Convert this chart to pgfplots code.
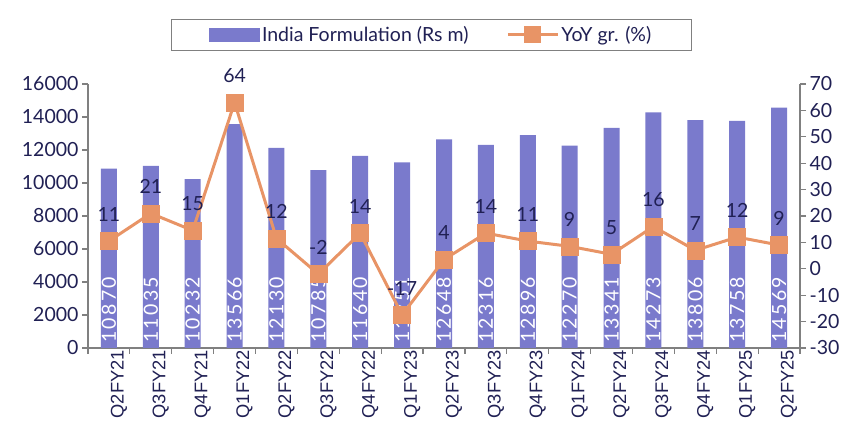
\documentclass[border=0pt]{standalone}
\usepackage{fontspec}
\setmainfont{Lato}
\newfontfamily\arialf{Liberation Sans}
\newfontfamily\barf{Lato}[LetterSpace=12]
\usepackage{pgfplots}
\pgfplotsset{compat=1.18}
\definecolor{barc}{RGB}{122,122,204}
\definecolor{linec}{RGB}{232,148,102}
\definecolor{txt}{RGB}{32,32,84}
\definecolor{axc}{RGB}{128,128,128}
\newcommand{\fz}{\fontsize{19.5}{22}\selectfont}
\newcommand{\fx}{\arialf\fontsize{18.3}{22}\selectfont}
\newcommand{\fb}{\barf\fontsize{19.5}{22}\selectfont}
\begin{document}
\begin{tikzpicture}
\path[use as bounding box] (-88pt,-87pt) rectangle (763pt,348pt);
\begin{axis}[
 at={(0,0)}, anchor=south west, scale only axis, width=712pt, height=264pt,
 clip=false,
 xmin=-0.5, xmax=16.5, ymin=0, ymax=16000,
 axis x line*=bottom, axis y line*=left,
 axis line style={axc, line width=1.2pt, -},
 tick style={axc, line width=1.2pt},
 tick align=outside, major tick length=6pt,
 xtick={-0.5,0.5,...,16.5}, xticklabels={},
 extra x ticks={0,...,16},
 extra x tick labels={Q2FY21,Q3FY21,Q4FY21,Q1FY22,Q2FY22,Q3FY22,Q4FY22,Q1FY23,Q2FY23,Q3FY23,Q4FY23,Q1FY24,Q2FY24,Q3FY24,Q4FY24,Q1FY25,Q2FY25},
 extra x tick style={major tick length=0pt, tick label style={rotate=90, anchor=east, font=\fx, text=txt, inner sep=2pt, yshift=-10pt}},
 ytick={0,2000,...,16000},
 scaled y ticks=false,
 y tick label style={font=\fz, text=txt},
 /pgf/number format/1000 sep={},
 /pgf/number format/assume math mode=true,
]
\addplot[ybar, bar width=16pt, fill=barc, draw=none] coordinates {
(0,10870) (1,11035) (2,10232) (3,13566) (4,12130) (5,10785) (6,11640) (7,11251) (8,12648) (9,12316) (10,12896) (11,12270) (12,13341) (13,14273) (14,13806) (15,13758) (16,14569)};
\addplot[draw=none, mark=none, nodes near coords, point meta=explicit symbolic,
 nodes near coords style={rotate=90, anchor=west, text=white, font=\fb, inner sep=2pt, xshift=3pt}] coordinates {
(0,0)[10870] (1,0)[11035] (2,0)[10232] (3,0)[13566] (4,0)[12130] (5,0)[10785] (6,0)[11640] (7,0)[11251] (8,0)[12648] (9,0)[12316] (10,0)[12896] (11,0)[12270] (12,0)[13341] (13,0)[14273] (14,0)[13806] (15,0)[13758] (16,0)[14569]};
\end{axis}
\begin{axis}[
 at={(0,0)}, anchor=south west, scale only axis, width=712pt, height=264pt,
 clip=false,
 xmin=-0.5, xmax=16.5, ymin=-30, ymax=70,
 axis x line=none, axis y line*=right,
 axis line style={axc, line width=1.2pt, -},
 tick style={axc, line width=1.2pt},
 tick align=outside, major tick length=6pt,
 ytick={-30,-20,...,70},
 y tick label style={font=\fz, text=txt},
 /pgf/number format/assume math mode=true,
 legend style={at={(0.482,1.186)}, anchor=center, draw=axc, line width=1pt, font=\fz, text=txt,
   inner xsep=38pt, inner ysep=5pt, /tikz/every even column/.append style={column sep=36pt}},
 legend columns=2,
]
\addlegendimage{legend image code/.code={\fill[barc] (-4pt,-6.5pt) rectangle (46pt,6.5pt);}}
\addlegendentry{India Formulation (Rs m)}
\addplot[linec, line width=3pt, mark=square*, mark size=8.5pt,
 mark options={solid, fill=linec, draw=linec, line width=0.5pt},
 nodes near coords, point meta=explicit symbolic,
 nodes near coords style={anchor=south, yshift=16pt, text=txt, font=\fz},
 legend image code/.code={\draw[linec, line width=3pt] (-4pt,0pt) -- (46pt,0pt); \fill[linec] (14pt,-7pt) rectangle (28pt,7pt);}
] coordinates {
(0,10.5)[11] (1,21)[21] (2,14.5)[15] (3,63)[64] (4,11.5)[12] (5,-2)[-2] (6,13.5)[14] (7,-17.5)[-17] (8,3.5)[4] (9,13.5)[14] (10,10.5)[11] (11,8.5)[9] (12,5.5)[5] (13,16)[16] (14,7)[7] (15,12)[12] (16,9)[9]};
\addlegendentry{YoY gr. (\%)}
\end{axis}
\end{tikzpicture}
\end{document}
